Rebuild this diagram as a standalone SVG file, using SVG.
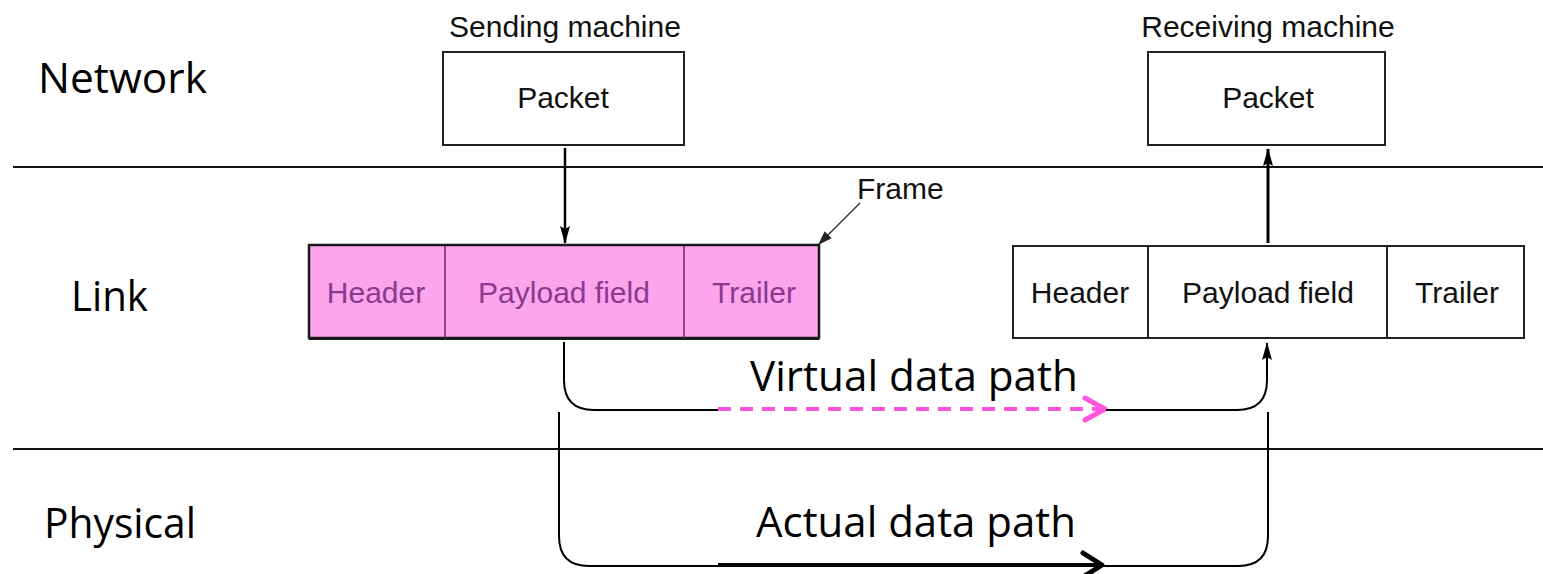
<svg xmlns="http://www.w3.org/2000/svg" width="1543" height="574" viewBox="0 0 1543 574">
<style>
.lbl{font-family:"Open Sans","Liberation Sans",sans-serif;font-size:42px;fill:#000}
.ar{font-family:"Liberation Sans",Arial,sans-serif;font-size:30px;fill:#111}
.pk{font-family:"Liberation Sans",Arial,sans-serif;font-size:30px;fill:#8a3a8e}
.box{fill:#fff;stroke:#222;stroke-width:2}
.ln{stroke:#000;stroke-width:2;fill:none}
</style>
<defs>
<marker id="tri2" viewBox="0 0 18 10" refX="17" refY="5" markerWidth="18" markerHeight="10" orient="auto" markerUnits="userSpaceOnUse">
<path d="M0,0 L18,5 L0,10 L3,5 z" fill="#000"/>
</marker>
<marker id="tri3" viewBox="0 0 14 10" refX="13" refY="5" markerWidth="14" markerHeight="10" orient="auto" markerUnits="userSpaceOnUse">
<path d="M0,0 L14,5 L0,10 z" fill="#222"/>
</marker>
</defs>
<rect width="1543" height="574" fill="#fff"/>

<g id="layers">
<line x1="13" y1="167" x2="1543" y2="167" stroke="#111" stroke-width="2"/>
<line x1="13" y1="449" x2="1543" y2="449" stroke="#111" stroke-width="2"/>
<text class="lbl" x="38" y="93" textLength="169" lengthAdjust="spacingAndGlyphs">Network</text>
<text class="lbl" x="71" y="311" textLength="77" lengthAdjust="spacingAndGlyphs">Link</text>
<text class="lbl" x="44" y="538" textLength="152" lengthAdjust="spacingAndGlyphs">Physical</text>
</g>

<g id="send-packet">
<text class="ar" x="565" y="37" text-anchor="middle">Sending machine</text>
<rect class="box" x="443" y="52" width="241" height="93"/>
<text class="ar" x="563" y="108" text-anchor="middle">Packet</text>
</g>

<g id="recv-packet">
<text class="ar" x="1268" y="37" text-anchor="middle">Receiving machine</text>
<rect class="box" x="1148" y="52" width="237" height="93"/>
<text class="ar" x="1268" y="108" text-anchor="middle">Packet</text>
</g>

<g id="send-frame">
<rect x="309" y="245" width="510" height="93" fill="#fca4ec" stroke="#1a1a1a" stroke-width="2.5"/>
<line x1="309" y1="339" x2="819" y2="339" stroke="#1a1a1a" stroke-width="2"/>
<line x1="445" y1="246" x2="445" y2="338" stroke="#6a2a6a" stroke-width="1.5"/>
<line x1="684" y1="246" x2="684" y2="338" stroke="#6a2a6a" stroke-width="1.5"/>
<text class="pk" x="376" y="303" text-anchor="middle">Header</text>
<text class="pk" x="564" y="303" text-anchor="middle">Payload field</text>
<text class="pk" x="754" y="303" text-anchor="middle">Trailer</text>
</g>

<g id="recv-frame">
<rect class="box" x="1013" y="246" width="511" height="92"/>
<line x1="1148" y1="246" x2="1148" y2="338" stroke="#222" stroke-width="2"/>
<line x1="1387" y1="246" x2="1387" y2="338" stroke="#222" stroke-width="2"/>
<text class="ar" x="1080" y="303" text-anchor="middle">Header</text>
<text class="ar" x="1268" y="303" text-anchor="middle">Payload field</text>
<text class="ar" x="1457" y="303" text-anchor="middle">Trailer</text>
</g>

<g id="frame-label">
<text class="ar" x="857" y="199">Frame</text>
</g>

<g id="connectors">
<line x1="565" y1="148" x2="565" y2="243" stroke="#000" stroke-width="2.5" marker-end="url(#tri2)"/>
<line x1="1268" y1="243" x2="1268" y2="149" stroke="#000" stroke-width="3" marker-end="url(#tri2)"/>
<line x1="860" y1="203" x2="819" y2="244" stroke="#333" stroke-width="1.5" marker-end="url(#tri3)"/>

<path class="ln" d="M564,342 V380 Q564,410 594,410 H718" stroke="#222"/>
<path d="M718,409 H1100" fill="none" stroke="#ff55dd" stroke-width="4" stroke-dasharray="13,9"/>
<polyline points="1085,398 1105,409 1085,420" fill="none" stroke="#ff55dd" stroke-width="5" stroke-linecap="round" stroke-linejoin="round"/>
<path class="ln" d="M1106,410 H1237 Q1267,410 1267,380 V343" stroke="#222" marker-end="url(#tri2)"/>
<text class="lbl" x="750" y="391" textLength="328" lengthAdjust="spacingAndGlyphs">Virtual data path</text>

<path class="ln" d="M559,412 V536 Q559,566 589,566 H718"/>
<path d="M718,565 H1100" fill="none" stroke="#000" stroke-width="4"/>
<polyline points="1083,553 1102,565 1083,577" fill="none" stroke="#000" stroke-width="5" stroke-linecap="round" stroke-linejoin="round"/>
<path class="ln" d="M1103,566 H1238 Q1268,566 1268,536 V412"/>
<text class="lbl" x="756" y="537" textLength="320" lengthAdjust="spacingAndGlyphs">Actual data path</text>
</g>
</svg>
